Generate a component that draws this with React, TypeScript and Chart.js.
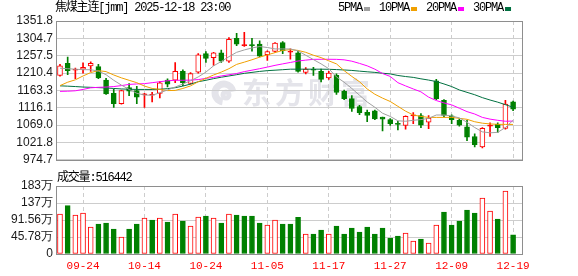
import React, { useEffect, useRef } from "react";
import { Chart, registerables } from "chart.js";

Chart.register(...registerables);

// ---------- data ----------
const dates = [
  "09-19", "09-22", "09-23", "09-24", "09-25", "09-26", "09-29", "09-30",
  "10-09", "10-10", "10-13", "10-14", "10-15", "10-16", "10-17",
  "10-20", "10-21", "10-22", "10-23", "10-24", "10-27", "10-28", "10-29", "10-30", "10-31",
  "11-03", "11-04", "11-05", "11-06", "11-07", "11-10", "11-11", "11-12", "11-13", "11-14",
  "11-17", "11-18", "11-19", "11-20", "11-21", "11-24", "11-25", "11-26", "11-27", "11-28",
  "12-01", "12-02", "12-03", "12-04", "12-05", "12-08", "12-09", "12-10", "12-11", "12-12",
  "12-15", "12-16", "12-17", "12-18", "12-19",
];

const opens = [1204, 1237, 1218, 1221, 1230, 1228, 1191, 1155, 1127, 1171, 1163, 1151, 1150, 1155, 1191, 1191, 1215, 1182, 1213, 1263, 1252, 1265, 1243, 1305, 1285, 1287, 1289, 1260, 1269, 1293, 1267, 1265, 1212, 1220, 1215, 1197, 1204, 1161, 1141, 1119, 1104, 1108, 1091, 1084, 1073, 1068, 1094, 1095, 1077, 1189, 1136, 1094, 1082, 1064, 1038, 1010, 1066, 1071, 1060, 1132];
const highs = [1234, 1254, 1224, 1238, 1241, 1234, 1196, 1167, 1164, 1182, 1174, 1155, 1158, 1187, 1195, 1239, 1219, 1212, 1263, 1269, 1267, 1273, 1307, 1318, 1321, 1305, 1298, 1271, 1293, 1296, 1276, 1270, 1225, 1226, 1221, 1215, 1208, 1164, 1149, 1123, 1110, 1110, 1091, 1087, 1079, 1094, 1103, 1100, 1095, 1193, 1138, 1097, 1086, 1082, 1045, 1062, 1075, 1075, 1136, 1134];
const lows = [1202, 1206, 1195, 1210, 1215, 1195, 1152, 1117, 1126, 1149, 1127, 1117, 1132, 1143, 1173, 1184, 1176, 1180, 1210, 1239, 1231, 1239, 1239, 1285, 1283, 1270, 1254, 1245, 1267, 1263, 1248, 1213, 1208, 1204, 1186, 1193, 1152, 1138, 1106, 1097, 1078, 1084, 1053, 1068, 1056, 1058, 1073, 1062, 1059, 1138, 1091, 1073, 1066, 1027, 1010, 1007, 1038, 1049, 1058, 1108];
const closes = [1230, 1217, 1220, 1226, 1237, 1197, 1154, 1127, 1163, 1161, 1145, 1153, 1151, 1184, 1180, 1215, 1184, 1209, 1260, 1250, 1265, 1243, 1302, 1289, 1287, 1285, 1256, 1269, 1292, 1271, 1268, 1215, 1221, 1218, 1193, 1210, 1158, 1141, 1114, 1103, 1095, 1086, 1085, 1073, 1071, 1093, 1096, 1069, 1088, 1141, 1095, 1084, 1069, 1036, 1016, 1060, 1068, 1062, 1126, 1112];

const volumes = [1077000, 1301000, 1050000, 1104000, 727000, 808000, 835000, 673000, 458000, 673000, 808000, 969000, 916000, 969000, 862000, 1077000, 889000, 754000, 996000, 1023000, 969000, 835000, 1077000, 1050000, 1023000, 1023000, 835000, 781000, 916000, 808000, 808000, 988000, 539000, 539000, 646000, 539000, 754000, 539000, 700000, 592000, 727000, 539000, 700000, 431000, 485000, 566000, 350000, 404000, 296000, 781000, 1131000, 781000, 889000, 1185000, 1104000, 1508000, 1158000, 943000, 1697000, 516442];

const ma5 = [1223.5, 1222.2, 1220.9, 1219.5, 1219.5, 1215.6, 1205.9, 1190.7, 1177.6, 1165.9, 1155.4, 1150.7, 1150.1, 1156.7, 1164.5, 1172.4, 1180.8, 1189.4, 1199.9, 1213.0, 1230.0, 1241.8, 1254.9, 1266.7, 1273.2, 1278.5, 1282.4, 1279.8, 1275.9, 1275.9, 1275.9, 1270.6, 1258.8, 1247.0, 1235.3, 1222.2, 1199.9, 1185.5, 1168.5, 1150.1, 1131.8, 1117.4, 1101.2, 1092.5, 1080.7, 1079.4, 1082.0, 1083.9, 1087.3, 1096.4, 1096.4, 1093.8, 1088.6, 1076.8, 1062.4, 1050.6, 1048.0, 1049.3, 1062.4, 1082.0];
const ma10 = [1176.3, 1185.5, 1192.0, 1202.5, 1211.7, 1216.9, 1214.3, 1205.1, 1197.3, 1190.7, 1184.2, 1175.0, 1168.5, 1165.9, 1162.7, 1163.2, 1168.5, 1175.5, 1186.8, 1196.0, 1205.1, 1213.0, 1222.2, 1233.9, 1240.0, 1246.5, 1253.6, 1259.6, 1265.9, 1271.9, 1274.0, 1271.9, 1266.7, 1258.8, 1252.3, 1243.6, 1235.3, 1216.9, 1201.2, 1186.8, 1167.2, 1152.8, 1142.3, 1133.1, 1120.0, 1106.9, 1096.4, 1092.5, 1089.9, 1089.9, 1089.9, 1089.9, 1087.3, 1084.7, 1078.1, 1074.2, 1072.1, 1071.1, 1070.8, 1070.8];
const ma20 = [1160.6, 1161.1, 1162.2, 1165.9, 1170.3, 1171.6, 1172.4, 1173.7, 1176.3, 1179.5, 1180.8, 1181.6, 1184.2, 1186.8, 1189.4, 1190.7, 1190.7, 1191.3, 1192.6, 1196.0, 1198.6, 1202.5, 1205.7, 1209.1, 1214.3, 1218.2, 1222.2, 1226.6, 1231.3, 1235.3, 1239.2, 1243.1, 1245.5, 1247.6, 1247.8, 1247.8, 1247.6, 1246.3, 1242.6, 1236.6, 1230.0, 1220.9, 1209.1, 1201.2, 1184.2, 1175.5, 1167.2, 1159.3, 1144.9, 1135.7, 1129.2, 1123.9, 1114.8, 1105.6, 1099.1, 1089.9, 1085.2, 1082.0, 1079.4, 1079.9];
const ma30 = [1175.6, 1174.8, 1173.7, 1172.4, 1171.6, 1170.8, 1169.8, 1168.5, 1167.2, 1166.4, 1165.9, 1165.9, 1165.9, 1166.4, 1168.0, 1170.6, 1175.0, 1180.3, 1186.8, 1190.7, 1195.2, 1199.1, 1202.5, 1205.9, 1209.6, 1212.2, 1214.8, 1216.9, 1218.2, 1219.5, 1220.9, 1220.9, 1220.9, 1220.9, 1220.9, 1220.6, 1219.8, 1218.8, 1217.5, 1215.6, 1213.8, 1212.2, 1209.9, 1208.0, 1203.8, 1200.9, 1198.6, 1194.7, 1191.3, 1187.3, 1180.8, 1173.7, 1164.5, 1158.0, 1151.5, 1143.6, 1137.1, 1131.3, 1124.5, 1117.4];

const priceTickLabels = ["974.7", "1021.8", "1069.0", "1116.1", "1163.3", "1210.4", "1257.5", "1304.7", "1351.8"];
const priceMin = 974.7;
const priceMax = 1351.8;
const volumeTickLabels = ["0", "45.78万", "91.56万", "137万", "183万"];
const volumeMax = 1831200;

const titleText = "焦煤主连[jmm] 2025-12-18 23:00";
const legendLabels = ["5PMA", "10PMA", "20PMA", "30PMA"];
const volumeTitle = "成交量:";
const watermarkText = "东方财富";

// ---------- style ----------
const W = 578;
const PRICE_H = 170;
const VOL_H = 106;
const X_MIN = -0.52;
const X_MAX = 60.16;
const UP = "#FF0000";
const DOWN = "#008000";
const MA_COLORS = ["#A0A0A0", "#F0A000", "#FF00FF", "#007040"];
const GRID = "#CDCDCD";
const FRAME = "#8E8E8E";
const SANS = "'Liberation Sans', Arial, sans-serif";
const MONO = "'Liberation Mono', 'Noto Sans CJK SC', monospace";

const idx = dates.map((_, i) => i);
const tickIdx = idx.filter((i) => i % 8 === 3);

const candleUp = (i: number) => closes[i] >= opens[i];
const isDoji = (i: number) => Math.abs(closes[i] - opens[i]) <= 2;
const volUp = (i: number) => (i === 0 ? candleUp(0) : closes[i] >= closes[i - 1]);

const framePlugin = {
  id: "frame",
  afterDraw(chart: any) {
    const { ctx, chartArea: a } = chart;
    ctx.save();
    ctx.strokeStyle = FRAME;
    ctx.lineWidth = 1;
    const l = Math.round(a.left) + 0.5;
    const t = Math.round(a.top) + 0.5;
    const r = Math.round(a.right) + 0.5;
    const b = Math.round(a.bottom) + 0.5;
    ctx.strokeRect(l, t, r - l, b - t);
    ctx.restore();
  },
};

const priceTextPlugin = {
  id: "priceText",
  beforeDraw(chart: any) {
    const { ctx } = chart;
    ctx.save();
    ctx.fillStyle = "#E4E4EA";
    ctx.strokeStyle = "#E4E4EA";
    // logo swirl
    ctx.lineWidth = 7;
    ctx.beginPath();
    ctx.arc(224, 93, 9, Math.PI * 0.55, Math.PI * 1.95);
    ctx.stroke();
    ctx.lineWidth = 5;
    ctx.beginPath();
    ctx.arc(226, 95, 3, 0, Math.PI * 2);
    ctx.stroke();
    ctx.font = "bold 29px 'Noto Sans CJK SC', sans-serif";
    (ctx as any).letterSpacing = "4px";
    ctx.textBaseline = "middle";
    ctx.textAlign = "left";
    ctx.fillText(watermarkText, 242, 93);
    ctx.restore();
  },
  afterDraw(chart: any) {
    const { ctx } = chart;
    ctx.save();
    ctx.textBaseline = "middle";
    ctx.textAlign = "left";
    ctx.fillStyle = "#000";
    ctx.font = "12px " + MONO;
    (ctx as any).letterSpacing = "-1.2px";
    ctx.fillText(titleText, 55, 8);
    let x = 338;
    legendLabels.forEach((lab, k) => {
      ctx.fillStyle = "#000";
      ctx.fillText(lab, x, 8);
      x += ctx.measureText(lab).width + 2;
      ctx.fillStyle = MA_COLORS[k];
      ctx.fillRect(x, 7, 6, 4);
      x += 6 + 9;
    });
    ctx.restore();
  },
};

const volTextPlugin = {
  id: "volText",
  afterDraw(chart: any) {
    const { ctx } = chart;
    ctx.save();
    ctx.textBaseline = "middle";
    ctx.textAlign = "left";
    ctx.fillStyle = "#000";
    ctx.font = "12px " + MONO;
    (ctx as any).letterSpacing = "-1.2px";
    ctx.fillText(volumeTitle + volumes[volumes.length - 1], 57, 8);
    ctx.restore();
  },
};

function xScale(showLabels: boolean, height: number) {
  return {
    type: "linear",
    min: X_MIN,
    max: X_MAX,
    offset: false,
    grid: { color: GRID, drawTicks: false, offset: false, lineWidth: 1 },
    border: { display: false, dash: [4, 3] },
    ticks: {
      display: showLabels,
      autoSkip: false,
      maxRotation: 0,
      padding: 5,
      color: UP,
      font: { family: "'Liberation Mono', monospace", size: 11 },
      callback: (v: number) => dates[Math.round(v)] ?? "",
    },
    afterBuildTicks: (s: any) => {
      s.ticks = tickIdx.map((v) => ({ value: v }));
    },
    afterFit: (s: any) => {
      s.height = height;
    },
  };
}

function yTicks(labels: string[]) {
  return {
    autoSkip: false,
    padding: 3,
    color: "#1a1a1a",
    font: { family: SANS, size: 12 },
    callback: (_v: number, i: number) => labels[i],
  };
}

export default function App() {
  const priceRef = useRef<HTMLCanvasElement>(null);
  const volRef = useRef<HTMLCanvasElement>(null);

  useEffect(() => {
    const step = (priceMax - priceMin) / (priceTickLabels.length - 1);
    const lineDs = [ma5, ma10, ma20, ma30].map((arr, k) => ({
      type: "line",
      data: arr.map((v, i) => ({ x: i, y: v })),
      borderColor: MA_COLORS[k],
      borderWidth: 1,
      pointRadius: 0,
      tension: 0,
      fill: false,
    }));
    const priceChart = new Chart(priceRef.current as HTMLCanvasElement, {
      type: "bar",
      data: {
        datasets: [
          ...lineDs,
          {
            type: "bar",
            data: idx.map((i) => ({ x: i, y: [opens[i], closes[i]] })),
            backgroundColor: idx.map((i) => (candleUp(i) ? (isDoji(i) ? UP : "#FFFFFF") : DOWN)),
            borderColor: idx.map((i) => (candleUp(i) ? UP : DOWN)),
            borderWidth: 1,
            borderSkipped: false,
            barThickness: 5,
            minBarLength: 1,
            grouped: false,
          },
          {
            type: "bar",
            data: idx.map((i) => ({ x: i, y: [lows[i], highs[i]] })),
            backgroundColor: idx.map((i) => (candleUp(i) ? UP : DOWN)),
            borderWidth: 0,
            barThickness: 1,
            minBarLength: 1,
            grouped: false,
          },
        ] as any,
      },
      options: {
        animation: false,
        responsive: false,
        maintainAspectRatio: false,
        events: [],
        layout: { padding: { left: 0, right: 56, top: 21, bottom: 5 } },
        plugins: { legend: { display: false }, tooltip: { enabled: false } },
        scales: {
          x: xScale(false, 0) as any,
          y: {
            type: "linear",
            position: "left",
            min: priceMin,
            max: priceMax,
            beginAtZero: false,
            grid: { color: GRID, drawTicks: false },
            border: { display: false },
            ticks: yTicks(priceTickLabels) as any,
            afterBuildTicks: (s: any) => {
              s.ticks = priceTickLabels.map((_, i) => ({ value: priceMin + i * step }));
            },
            afterFit: (s: any) => {
              s.width = 56;
            },
          },
        },
      },
      plugins: [priceTextPlugin, framePlugin],
    });

    const vstep = volumeMax / (volumeTickLabels.length - 1);
    const volChart = new Chart(volRef.current as HTMLCanvasElement, {
      type: "bar",
      data: {
        datasets: [
          {
            data: idx.map((i) => ({ x: i, y: volumes[i] })),
            backgroundColor: idx.map((i) => (volUp(i) ? "#FFFFFF" : DOWN)),
            borderColor: idx.map((i) => (volUp(i) ? UP : DOWN)),
            borderWidth: 1,
            borderSkipped: false,
            barThickness: 5,
            grouped: false,
          },
        ] as any,
      },
      options: {
        animation: false,
        responsive: false,
        maintainAspectRatio: false,
        events: [],
        layout: { padding: { left: 0, right: 56, top: 16, bottom: 0 } },
        plugins: { legend: { display: false }, tooltip: { enabled: false } },
        scales: {
          x: xScale(true, 22) as any,
          y: {
            type: "linear",
            position: "left",
            min: 0,
            max: volumeMax,
            grid: { color: GRID, drawTicks: false },
            border: { display: false },
            ticks: yTicks(volumeTickLabels) as any,
            afterBuildTicks: (s: any) => {
              s.ticks = volumeTickLabels.map((_, i) => ({ value: i * vstep }));
            },
            afterFit: (s: any) => {
              s.width = 56;
            },
          },
        },
      },
      plugins: [volTextPlugin, framePlugin],
    });

    return () => {
      priceChart.destroy();
      volChart.destroy();
    };
  }, []);

  return (
    <div style={{ position: "absolute", left: 0, top: 0, width: W, height: PRICE_H + VOL_H, background: "#fff" }}>
      <canvas ref={priceRef} width={W} height={PRICE_H} style={{ position: "absolute", left: 0, top: 0, width: W, height: PRICE_H }} />
      <canvas ref={volRef} width={W} height={VOL_H} style={{ position: "absolute", left: 0, top: PRICE_H, width: W, height: VOL_H }} />
    </div>
  );
}
